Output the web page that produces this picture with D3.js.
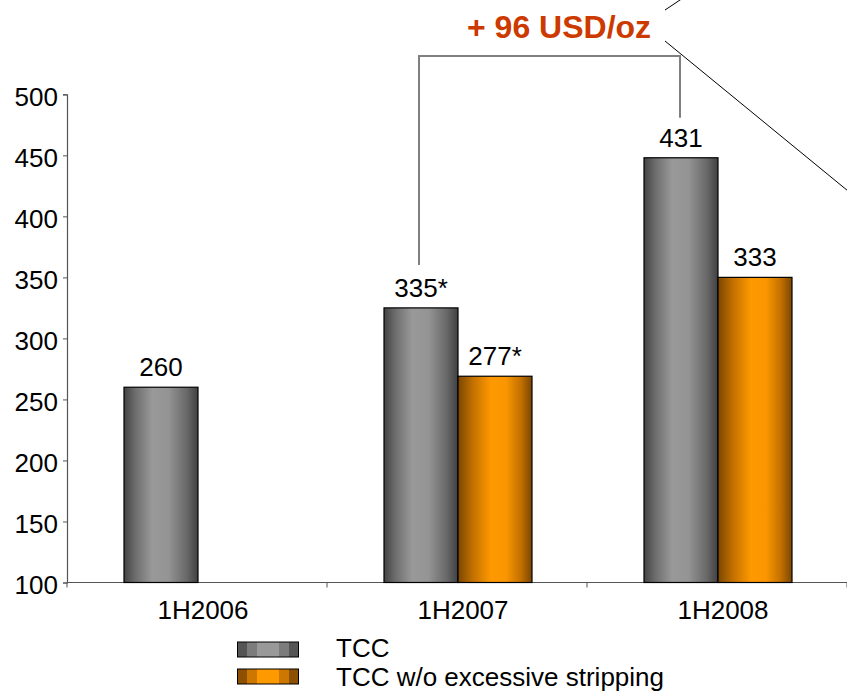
<!DOCTYPE html>
<html><head><meta charset="utf-8">
<script src="https://cdn.jsdelivr.net/npm/d3@7"></script>
<style>
html,body{margin:0;padding:0;background:#fff;}
svg{display:block;font-family:"Liberation Sans",Arial,sans-serif;}
</style></head>
<body>
<svg id="c" width="847" height="693"></svg>
<script>
const categories = ["1H2006", "1H2007", "1H2008"];
const seriesNames = ["TCC", "TCC w/o excessive stripping"];
const tccValues = [260, 325, 448];
const tccLabels = ["260", "335*", "431"];
const woValues = [null, 269, 350];
const woLabels = ["", "277*", "333"];
const yTicks = [100, 150, 200, 250, 300, 350, 400, 450, 500];
const annotation = "+ 96 USD/oz";

const svg = d3.select("#c");
const defs = svg.append("defs");
const FS = 26;

function grad(id, stops){
  const g = defs.append("linearGradient").attr("id", id).attr("x1","0%").attr("x2","100%").attr("y1","0%").attr("y2","0%");
  stops.forEach(s => g.append("stop").attr("offset", s[0]).attr("stop-color", s[1]));
}
grad("gGray", [["0%","#434343"],["15%","#6c6c6c"],["38%","#999999"],["60%","#949494"],["85%","#686868"],["100%","#404040"]]);
grad("gOrange", [["0%","#7a4700"],["20%","#c27000"],["45%","#ff9900"],["65%","#fa9600"],["85%","#c27000"],["100%","#7a4700"]]);
function stepGrad(id, dark, mid, light){
  grad(id, [["0%",dark],["16%",dark],["16%",mid],["32%",mid],["32%",light],["68%",light],["68%",mid],["84%",mid],["84%",dark],["100%",dark]]);
}
stepGrad("sGray", "#555555", "#7c7c7c", "#999999");
stepGrad("sOrange", "#8c5000", "#cc7700", "#ff9900");

const fills = ["url(#gGray)", "url(#gOrange)"];
const swFills = ["url(#sGray)", "url(#sOrange)"];

const x0 = 67, x1r = 847, yBottom = 582.5, yTop = 94.3;
const pIn = 112/260;
const x = d3.scaleBand().domain(categories).range([x0 + 1, x1r + 1]).paddingInner(pIn).paddingOuter(pIn/2);
const xs = d3.scaleBand().domain(seriesNames).range([0, x.bandwidth()]);
const y = d3.scaleLinear().domain([100, 500]).range([yBottom, yTop]);

// Y axis
const yAxis = svg.append("g").attr("transform", `translate(${x0},0)`)
  .call(d3.axisLeft(y).tickValues(yTicks).tickSize(4).tickPadding(5).tickFormat(d3.format("d")));
yAxis.select(".domain").attr("stroke", "#555").attr("stroke-width", 1.2);
yAxis.selectAll(".tick line").attr("stroke", "#555");
yAxis.selectAll(".tick text").attr("font-size", FS).attr("fill", "#000").attr("dy", "0.42em");

// X axis
const step = x.step();
const xg = svg.append("g");
xg.append("line").attr("x1", x0).attr("x2", x1r).attr("y1", yBottom).attr("y2", yBottom)
  .attr("stroke", "#555").attr("stroke-width", 1.2);
const bounds = [x0, x0 + step, x0 + 2*step, x0 + 3*step];
xg.selectAll("line.tk").data(bounds).join("line").attr("class","tk")
  .attr("x1", d => d).attr("x2", d => d).attr("y1", yBottom).attr("y2", yBottom + 5)
  .attr("stroke", "#555");
xg.selectAll("text").data(categories).join("text")
  .attr("x", d => x(d) + x.bandwidth()/2 + 5).attr("y", 619)
  .attr("text-anchor", "middle").attr("font-size", FS).attr("fill", "#000").text(d => d);

// Bars
const rows = categories.map((c, i) => ({c, vals: [
  {s: 0, v: tccValues[i], lab: tccLabels[i]},
  {s: 1, v: woValues[i], lab: woLabels[i]}
]}));
const grp = svg.append("g").selectAll("g").data(rows).join("g")
  .attr("transform", d => `translate(${x(d.c)},0)`);
grp.selectAll("rect").data(d => d.vals.filter(v => v.v != null)).join("rect")
  .attr("x", d => xs(seriesNames[d.s])).attr("width", xs.bandwidth())
  .attr("y", d => y(d.v)).attr("height", d => y(100) - y(d.v))
  .attr("fill", d => fills[d.s]).attr("stroke", "#000").attr("stroke-width", 1.2);
grp.selectAll("text").data(d => d.vals.filter(v => v.v != null)).join("text")
  .attr("x", d => xs(seriesNames[d.s]) + xs.bandwidth()/2).attr("y", d => y(d.v) - 11)
  .attr("text-anchor", "middle").attr("font-size", FS).attr("fill", "#000").text(d => d.lab);

// Bracket annotation between 1H2007 TCC and 1H2008 TCC
const bxL = x(categories[1]) + xs(seriesNames[0]) + xs.bandwidth()/2 - 2;
const bxR = x(categories[2]) + xs(seriesNames[0]) + xs.bandwidth()/2 - 1;
const byTop = 56;
svg.append("path")
  .attr("d", `M${bxL},${y(tccValues[1]) - 43}V${byTop}H${bxR}V${y(tccValues[2]) - 40}`)
  .attr("fill", "none").attr("stroke", "#808080").attr("stroke-width", 2);

svg.append("text").attr("x", 467).attr("y", 38).attr("font-size", 32).attr("font-weight", "bold")
  .attr("fill", "#cc3a00").text(annotation);

// callout lines
svg.append("line").attr("x1", 665).attr("y1", 10).attr("x2", 695).attr("y2", -10).attr("stroke", "#000").attr("stroke-width", 1);
svg.append("line").attr("x1", 665).attr("y1", 41).attr("x2", 870).attr("y2", 209).attr("stroke", "#000").attr("stroke-width", 1);

// Legend
const lg = svg.append("g");
const legY = [642, 669];
const legTextY = [657, 686];
seriesNames.forEach((n, i) => {
  lg.append("rect").attr("x", 237.5).attr("y", legY[i]).attr("width", 61).attr("height", 15)
    .attr("fill", swFills[i]).attr("stroke", "#000").attr("stroke-width", 1);
  lg.append("text").attr("x", 336).attr("y", legTextY[i]).attr("font-size", FS).attr("fill", "#000").text(n);
});
</script>
</body></html>
